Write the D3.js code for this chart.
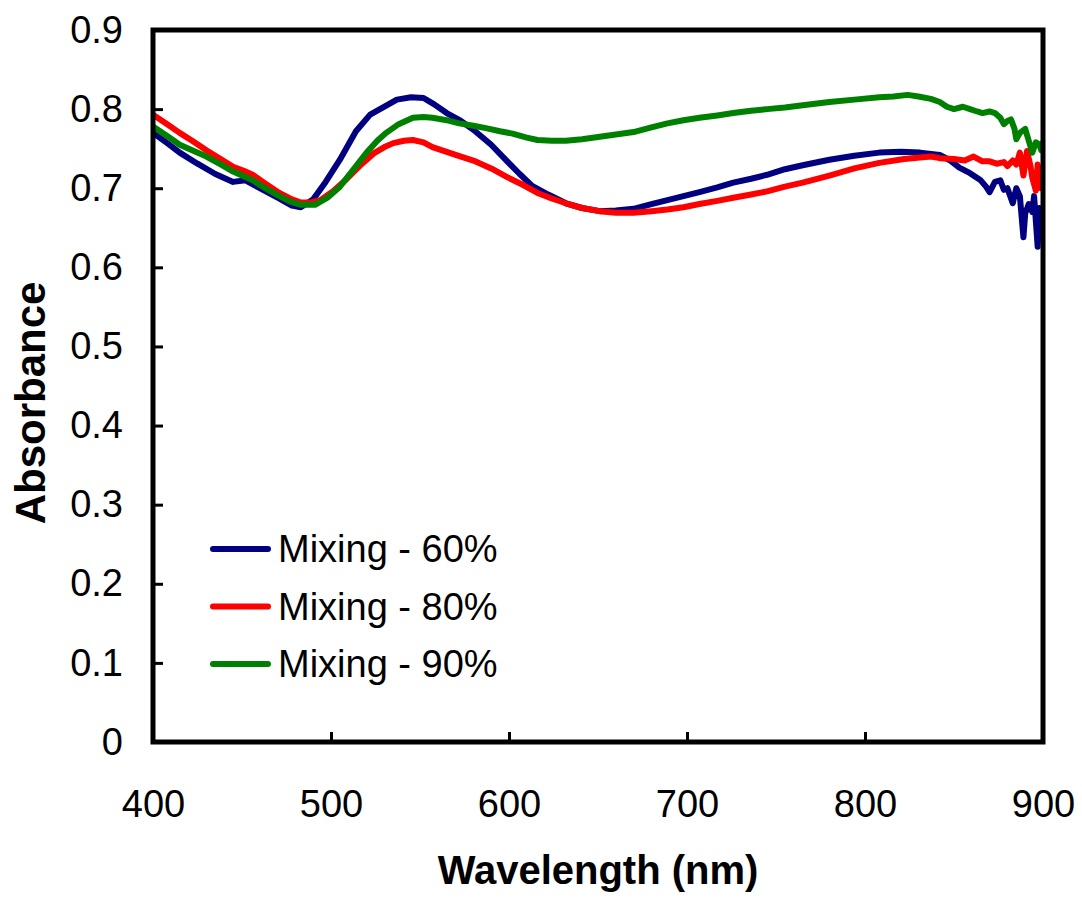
<!DOCTYPE html>
<html>
<head>
<meta charset="utf-8">
<script src="https://cdn.jsdelivr.net/npm/d3@7"></script>
<style>
    body { margin: 0; background: #fff; }
    svg { display: block; font-family: "Liberation Sans", Arial, sans-serif; }
</style>
</head>
<body>
<div id="chart"></div>
<script>
// tick values
const xTicks = [400, 500, 600, 700, 800, 900];
const yTicks = [0, 0.1, 0.2, 0.3, 0.4, 0.5, 0.6, 0.7, 0.8, 0.9];

const seriesNames = ["Mixing - 60%", "Mixing - 80%", "Mixing - 90%"];
const seriesColors = ["#000080", "#ff0000", "#008000"];

// [wavelength, absorbance]
const mix60 = [
    [400,0.770],[408,0.757],[415,0.745],[425,0.731],[435,0.718],[445,0.708],[452,0.710],[460,0.700],
    [470,0.688],[478,0.678],[483,0.676],[490,0.686],[497,0.708],[505,0.736],[514,0.772],[522,0.793],
    [530,0.803],[537,0.812],[545,0.815],[552,0.814],[558,0.806],[565,0.795],[573,0.785],[580,0.774],
    [590,0.755],[599,0.734],[606,0.718],[613,0.703],[622,0.692],[632,0.681],[641,0.675],[651,0.671],
    [660,0.672],[670,0.674],[680,0.680],[689,0.685],[698,0.690],[707,0.695],[717,0.701],[726,0.707],
    [736,0.712],[745,0.717],[755,0.724],[765,0.729],[780,0.736],[794,0.741],[808,0.745],[820,0.746],
    [831,0.745],[842,0.742],[848,0.735],[853,0.726],[859,0.719],[865,0.710],[868,0.702],[870,0.695],
    [873,0.708],[876,0.710],[878,0.698],[880,0.700],[883,0.681],[885,0.700],[887,0.690],[889,0.638],
    [890,0.668],[892,0.680],[894,0.670],[895,0.690],[897,0.626],[898,0.675],[899,0.645],[900,0.660]
];
const mix80 = [
    [400,0.793],[408,0.781],[415,0.770],[422,0.760],[430,0.748],[438,0.737],[445,0.727],[451,0.722],
    [456,0.717],[463,0.706],[471,0.694],[477,0.687],[483,0.682],[489,0.682],[494,0.685],[501,0.696],
    [509,0.712],[517,0.730],[524,0.744],[530,0.752],[535,0.757],[541,0.760],[546,0.761],[552,0.758],
    [557,0.752],[565,0.746],[573,0.740],[580,0.735],[590,0.725],[599,0.714],[608,0.704],[616,0.694],
    [624,0.687],[632,0.681],[641,0.675],[651,0.671],[660,0.669],[670,0.669],[680,0.671],[689,0.673],
    [698,0.676],[707,0.680],[717,0.684],[726,0.688],[736,0.692],[745,0.696],[755,0.702],[765,0.707],
    [780,0.716],[794,0.725],[808,0.732],[822,0.737],[837,0.740],[842,0.738],[850,0.737],[856,0.735],
    [861,0.740],[866,0.734],[870,0.734],[874,0.731],[878,0.733],[880,0.728],[883,0.735],[885,0.730],
    [887,0.745],[889,0.716],[891,0.747],[893,0.728],[894,0.713],[896,0.697],[897,0.730],[898,0.716],
    [899,0.700],[900,0.722]
];
const mix90 = [
    [400,0.778],[408,0.766],[415,0.755],[422,0.748],[430,0.740],[438,0.730],[445,0.721],[451,0.715],
    [456,0.710],[463,0.700],[471,0.690],[477,0.683],[483,0.679],[491,0.679],[498,0.688],[505,0.702],
    [512,0.722],[520,0.745],[526,0.760],[531,0.770],[538,0.781],[546,0.789],[552,0.790],[557,0.789],
    [565,0.786],[572,0.782],[580,0.779],[587,0.776],[595,0.772],[602,0.769],[610,0.764],[616,0.761],
    [624,0.760],[632,0.760],[641,0.762],[651,0.765],[660,0.768],[670,0.771],[680,0.777],[689,0.782],
    [698,0.786],[707,0.789],[717,0.792],[726,0.795],[736,0.798],[745,0.800],[755,0.802],[765,0.805],
    [780,0.809],[794,0.812],[808,0.815],[816,0.816],[824,0.818],[830,0.816],[837,0.813],[842,0.809],
    [846,0.803],[850,0.800],[855,0.803],[859,0.800],[863,0.797],[866,0.795],[870,0.797],[873,0.795],
    [876,0.789],[878,0.781],[880,0.785],[882,0.787],[884,0.775],[885,0.762],[887,0.770],[890,0.775],
    [892,0.760],[894,0.745],[896,0.758],[898,0.755],[899,0.748],[900,0.758]
];

const seriesData = [mix60, mix80, mix90];

const W = 1082, H = 901;
const margin = { top: 30, right: 39, bottom: 159, left: 153 };
const width = W - margin.left - margin.right;
const height = H - margin.top - margin.bottom;

const svg = d3.select("#chart").append("svg")
    .attr("width", W)
    .attr("height", H);

const g = svg.append("g")
    .attr("transform", `translate(${margin.left},${margin.top})`);

const x = d3.scaleLinear().domain([400, 900]).range([0, width]);
const y = d3.scaleLinear().domain([0, 0.9]).range([height, 0]);

// clip so noisy tails stay inside the frame
g.append("clipPath").attr("id", "plotClip")
    .append("rect").attr("width", width).attr("height", height);

const line = d3.line()
    .x(d => x(d[0]))
    .y(d => y(d[1]));

g.append("g")
    .attr("clip-path", "url(#plotClip)")
    .selectAll("path")
    .data(seriesData)
    .enter().append("path")
    .attr("d", line)
    .attr("fill", "none")
    .attr("stroke", (d, i) => seriesColors[i])
    .attr("stroke-width", 6)
    .attr("stroke-linejoin", "round")
    .attr("stroke-linecap", "round");

// axes, ticks pointing inward
const xAxis = g.append("g")
    .attr("transform", `translate(0,${height})`)
    .call(d3.axisBottom(x).tickValues(xTicks).tickSizeInner(-10).tickSizeOuter(0).tickPadding(48).tickFormat(d3.format("d")));

const yAxis = g.append("g")
    .call(d3.axisLeft(y).tickValues(yTicks).tickSizeInner(-10).tickSizeOuter(0).tickPadding(30).tickFormat(d => d === 0 ? "0" : d3.format(".1f")(d)));

[xAxis, yAxis].forEach(ax => {
    ax.select(".domain").remove();
    ax.selectAll(".tick line").attr("stroke", "#000").attr("stroke-width", 3);
    ax.selectAll(".tick text")
        .attr("fill", "#000")
        .style("font-size", "38px")
        .style("font-family", "'Liberation Sans', Arial, sans-serif");
});
xAxis.selectAll(".tick text").attr("dy", "0.71em");

// frame
g.append("rect")
    .attr("width", width)
    .attr("height", height)
    .attr("fill", "none")
    .attr("stroke", "#000")
    .attr("stroke-width", 5);

// legend
const legend = g.append("g")
    .attr("transform", `translate(${213 - margin.left},${549 - margin.top})`);

const items = legend.selectAll("g")
    .data(seriesNames)
    .enter().append("g")
    .attr("transform", (d, i) => `translate(0,${i * 57.5})`);

items.append("line")
    .attr("x1", 0).attr("x2", 55)
    .attr("stroke", (d, i) => seriesColors[i])
    .attr("stroke-width", 6)
    .attr("stroke-linecap", "round");

items.append("text")
    .attr("x", 65)
    .attr("dy", "0.35em")
    .style("font-size", "38px")
    .text(d => d);

// axis titles
svg.append("text")
    .attr("x", margin.left + width / 2)
    .attr("y", 884)
    .attr("text-anchor", "middle")
    .style("font-size", "40px")
    .style("font-weight", "bold")
    .text("Wavelength (nm)");

svg.append("text")
    .attr("transform", `translate(45,${403}) rotate(-90)`)
    .attr("text-anchor", "middle")
    .style("font-size", "42px")
    .style("font-weight", "bold")
    .text("Absorbance");
</script>
</body>
</html>
